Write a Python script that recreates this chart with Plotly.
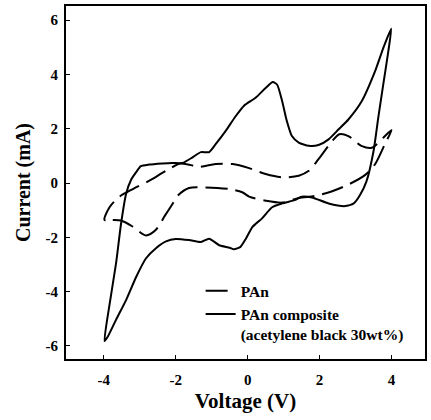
import plotly.graph_objects as go

# Cyclic voltammograms (closed loops), voltage in V, current in mA
pan_voltage = [-3.98, -3.75, -3.52, -3.2, -2.83, -2.55, -2.3, -2.09, -1.95, -1.63, -1.17, -0.52,
               -0.15, 0.04, 0.5, 0.96, 1.42, 1.88, 2.35, 2.81, 3.27, 3.54, 3.82, 4.0,
               3.77, 3.45, 3.16, 2.8, 2.55, 2.35, 1.98, 1.7, 1.42, 0.96, 0.5, 0.04,
               -0.42, -0.89, -1.35, -1.86, -2.27, -2.73, -3.19, -3.56, -3.84, -3.98]
pan_current = [-1.36, -1.36, -1.38, -1.6, -1.93, -1.72, -1.2, -0.77, -0.47, -0.18, -0.16, -0.22,
               -0.34, -0.5, -0.65, -0.72, -0.55, -0.47, -0.3, -0.05, 0.3, 0.69, 1.45, 1.95,
               1.67, 1.3, 1.37, 1.73, 1.8, 1.55, 0.9, 0.45, 0.27, 0.21, 0.33, 0.55,
               0.7, 0.7, 0.6, 0.72, 0.45, 0.09, -0.22, -0.5, -0.89, -1.36]

comp_voltage = [-3.98, -3.85, -3.66, -3.52, -3.38, -3.24, -3.1, -2.97, -2.74, -2.37, -2.09, -1.81,
                -1.54, -1.3, -1.07, -0.89, -0.61, -0.34, -0.1, 0.22, 0.5, 0.7, 0.82, 0.96,
                1.09, 1.23, 1.42, 1.7, 1.97, 2.25, 2.53, 2.8, 3.17, 3.54, 3.77, 3.99,
                3.91, 3.77, 3.63, 3.5, 3.3, 3.12, 2.95, 2.71, 2.25, 1.79, 1.5, 1.33,
                0.96, 0.68, 0.4, 0.13, -0.05, -0.2, -0.38, -0.5, -0.79, -1.07, -1.3, -1.63,
                -2.0, -2.27, -2.55, -2.83, -3.1, -3.38, -3.66, -3.89, -3.98]
comp_current = [-5.82, -4.56, -2.97, -1.5, -0.4, 0.12, 0.4, 0.62, 0.68, 0.72, 0.74, 0.74,
                0.94, 1.14, 1.14, 1.43, 1.92, 2.45, 2.85, 3.14, 3.5, 3.72, 3.62, 3.01,
                2.28, 1.73, 1.49, 1.37, 1.4, 1.61, 1.98, 2.34, 3.01, 4.11, 4.97, 5.68,
                4.85, 3.63, 2.4, 1.18, 0.05, -0.45, -0.75, -0.85, -0.75, -0.53, -0.5, -0.62,
                -0.75, -0.89, -1.3, -1.62, -2.05, -2.35, -2.44, -2.38, -2.29, -2.05, -2.17, -2.1,
                -2.06, -2.15, -2.4, -2.78, -3.46, -4.31, -5.04, -5.66, -5.82]

tick_vals_x = [-4, -2, 0, 2, 4]
tick_vals_y = [-6, -4, -2, 0, 2, 4, 6]

serif = "Liberation Serif, Times New Roman, serif"


def bold(s):
    return "<b>" + s + "</b>"


fig = go.Figure()
fig.add_trace(go.Scatter(
    x=pan_voltage, y=pan_current, mode="lines", name=bold("PAn"),
    line=dict(color="black", width=2, dash="22px,8px", shape="spline", smoothing=0.8),
))
fig.add_trace(go.Scatter(
    x=comp_voltage, y=comp_current, mode="lines",
    name=bold("PAn composite") + "<br>" + bold("(acetylene black 30wt%)"),
    line=dict(color="black", width=2, shape="spline", smoothing=0.6),
))

axis_common = dict(
    showline=True, mirror=True, linecolor="black", linewidth=2,
    ticks="inside", ticklen=4, tickwidth=1, tickcolor="black",
    showgrid=False, zeroline=False,
    tickfont=dict(family=serif, size=15, color="black"),
)

fig.update_layout(
    width=431, height=420,
    margin=dict(l=66, r=4, t=4, b=61),
    paper_bgcolor="white", plot_bgcolor="white",
    font=dict(family=serif, color="black"),
    xaxis=dict(
        range=[-5.05, 4.93], tickvals=tick_vals_x,
        ticktext=[bold(str(v)) for v in tick_vals_x], ticklabelstandoff=6,
        title=dict(text=bold("Voltage (V)"), standoff=6,
                   font=dict(family=serif, size=21, color="black")),
        **axis_common,
    ),
    yaxis=dict(
        range=[-6.48, 6.52], tickvals=tick_vals_y,
        ticktext=[bold(str(v)) for v in tick_vals_y], ticklabelstandoff=3,
        title=dict(text=bold("Current (mA)"), standoff=10,
                   font=dict(family=serif, size=20, color="black")),
        **axis_common,
    ),
    legend=dict(
        x=0.375, y=0.24, xanchor="left", yanchor="top",
        bgcolor="rgba(0,0,0,0)", valign="top", tracegroupgap=0,
        font=dict(family=serif, size=15.5, color="black"),
    ),
)

fig.write_html("out.html")
